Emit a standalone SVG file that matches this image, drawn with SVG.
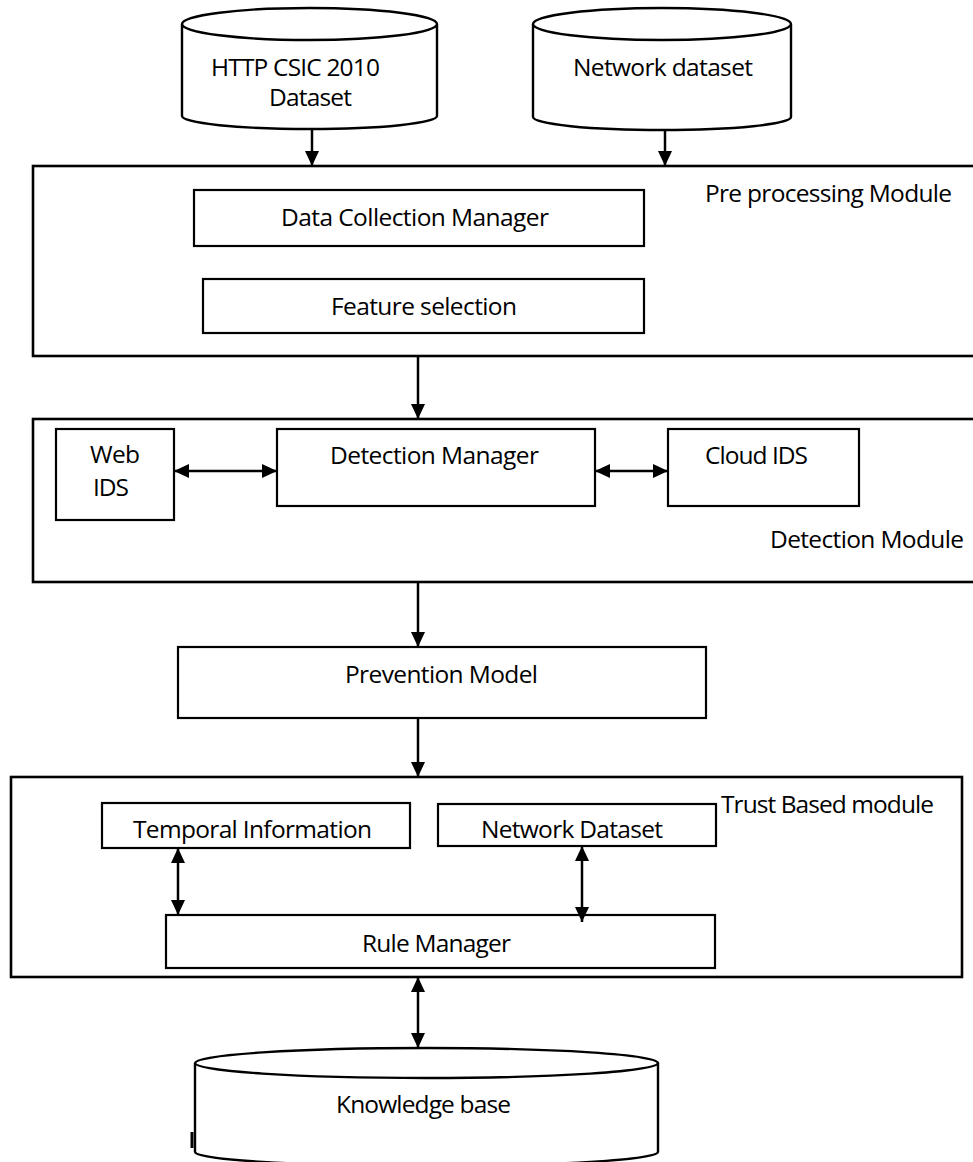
<svg xmlns="http://www.w3.org/2000/svg" width="973" height="1162" viewBox="0 0 973 1162">
<style>
text{font-family:"Open Sans","Liberation Sans",sans-serif;font-size:24.5px;fill:#000}
.outer{fill:none;stroke:#000;stroke-width:2.6}
.box{fill:#fff;stroke:#000;stroke-width:2.2}
.cyl{fill:#fff;stroke:#000;stroke-width:2.4}
.conn{stroke:#000;stroke-width:2.5;fill:none}
.one{marker-end:url(#ah)}
.two{marker-start:url(#ah);marker-end:url(#ah)}
</style>
<defs>
<marker id="ah" markerUnits="userSpaceOnUse" markerWidth="16" markerHeight="16" refX="15" refY="7.5" orient="auto-start-reverse">
<path d="M0,0.5 L15,7.5 L0,14.5 z" fill="#000"/>
</marker>
</defs>
<rect width="973" height="1162" fill="#fff"/>

<g id="http-dataset">
<path class="cyl" d="M182,24 L182,116 A127.5,13 0 0 0 437,116 L437,24"/>
<ellipse class="cyl" cx="309.5" cy="24" rx="127.5" ry="16"/>
<text x="211" y="76" textLength="169">HTTP CSIC 2010</text>
<text x="269" y="106" textLength="83">Dataset</text>
</g>

<g id="network-dataset-db">
<path class="cyl" d="M533,24 L533,117 A129,13 0 0 0 791,117 L791,24"/>
<ellipse class="cyl" cx="662" cy="24" rx="129" ry="16"/>
<text x="573" y="76" textLength="180">Network dataset</text>
</g>

<g id="preprocessing-module">
<rect class="outer" x="33" y="166" width="945" height="190"/>
<text x="705" y="202" textLength="247">Pre processing Module</text>
</g>
<g id="data-collection-manager">
<rect class="box" x="194" y="190" width="450" height="56"/>
<text x="281" y="226" textLength="268">Data Collection Manager</text>
</g>
<g id="feature-selection">
<rect class="box" x="203" y="279" width="441" height="54"/>
<text x="331" y="315" textLength="186">Feature selection</text>
</g>

<g id="detection-module">
<rect class="outer" x="33" y="419" width="945" height="163"/>
<text x="770" y="548" textLength="194">Detection Module</text>
</g>
<g id="web-ids">
<rect class="box" x="56" y="429" width="118" height="91"/>
<text x="90" y="463" textLength="50">Web</text>
<text x="93" y="496" textLength="36">IDS</text>
</g>
<g id="detection-manager">
<rect class="box" x="277" y="429" width="318" height="77"/>
<text x="330" y="464" textLength="209">Detection Manager</text>
</g>
<g id="cloud-ids">
<rect class="box" x="668" y="429" width="191" height="77"/>
<text x="705" y="464" textLength="103">Cloud IDS</text>
</g>

<g id="prevention-model">
<rect class="box" x="178" y="647" width="528" height="71"/>
<text x="345" y="683" textLength="193">Prevention Model</text>
</g>

<g id="trust-module">
<rect class="outer" x="11" y="777" width="951" height="200"/>
<text x="721" y="813" textLength="213">Trust Based module</text>
</g>
<g id="temporal-information">
<rect class="box" x="102" y="803" width="308" height="45"/>
<text x="133" y="838" textLength="239">Temporal Information</text>
</g>
<g id="network-dataset">
<rect class="box" x="438" y="804" width="278" height="42"/>
<text x="481" y="838" textLength="182">Network Dataset</text>
</g>
<g id="rule-manager">
<rect class="box" x="166" y="915" width="549" height="53"/>
<text x="362" y="952" textLength="149">Rule Manager</text>
</g>

<g id="knowledge-base">
<path class="cyl" d="M195,1063 L195,1152 A231.5,14 0 0 0 658,1152 L658,1063"/>
<ellipse class="cyl" cx="426.5" cy="1063" rx="231.5" ry="15"/>
<text x="336" y="1113" textLength="175">Knowledge base</text>
<line x1="192" y1="1132" x2="192" y2="1148" stroke="#000" stroke-width="3"/>
</g>

<g id="connectors">
<line class="conn one" x1="312" y1="129" x2="312" y2="166"/>
<line class="conn one" x1="665" y1="131" x2="665" y2="166"/>
<line class="conn one" x1="418" y1="357" x2="418" y2="419"/>
<line class="conn two" x1="174" y1="471" x2="277" y2="471"/>
<line class="conn two" x1="595" y1="471" x2="668" y2="471"/>
<line class="conn one" x1="418" y1="582" x2="418" y2="647"/>
<line class="conn one" x1="418" y1="718" x2="418" y2="777"/>
<line class="conn two" x1="178" y1="848" x2="178" y2="915"/>
<line class="conn two" x1="582" y1="846" x2="582" y2="922"/>
<line class="conn two" x1="418" y1="977" x2="418" y2="1048"/>
</g>
</svg>
